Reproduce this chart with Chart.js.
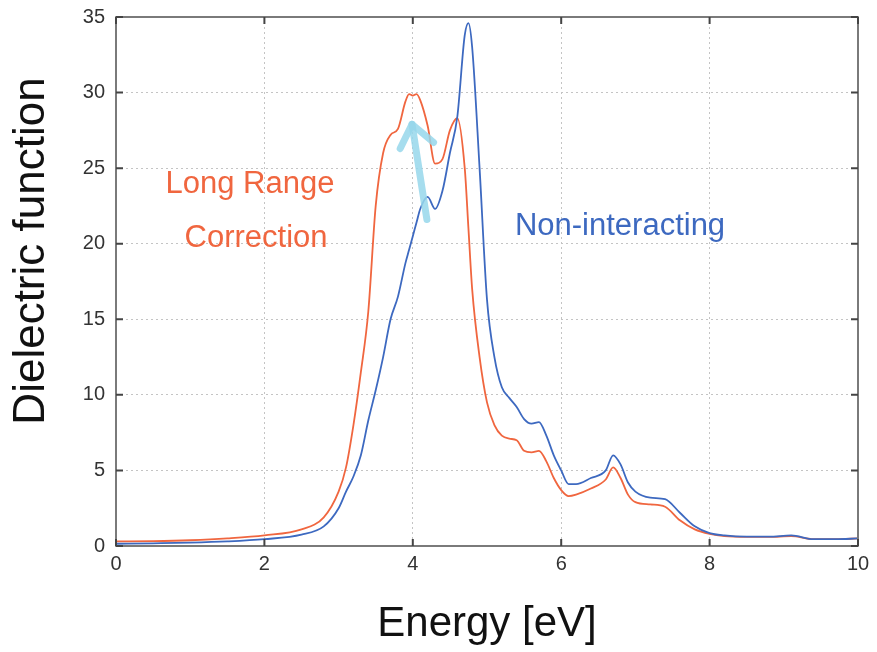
<!DOCTYPE html>
<html>
<head>
<meta charset="utf-8">
<script src="https://cdn.jsdelivr.net/npm/chart.js@4.4.1/dist/chart.umd.min.js"></script>
<style>
  html, body { margin: 0; padding: 0; background: #fff; }
  #wrap { width: 877px; height: 652px; }
</style>
</head>
<body>
<div id="wrap"><canvas id="chart" width="877" height="652"></canvas></div>
<script>
// energy grid (eV)
const energy = [0, 0.5, 1, 1.5, 2, 2.5, 2.8, 3.0, 3.1, 3.2, 3.3, 3.4, 3.5, 3.6, 3.7, 3.8, 3.9, 3.95, 4.0, 4.05, 4.1, 4.2,
  4.3, 4.4, 4.5, 4.6, 4.7, 4.75, 4.8, 4.9, 5.0, 5.1, 5.2, 5.3, 5.4, 5.5, 5.6, 5.7, 5.8, 5.9, 6.0, 6.1,
  6.2, 6.4, 6.6, 6.7, 6.8, 6.9, 7.0, 7.2, 7.4, 7.6, 7.8, 8.0, 8.2, 8.5, 8.8, 9.1, 9.4, 9.7, 10];

const longRange = [0.3, 0.32, 0.38, 0.5, 0.7, 1.1, 1.9, 3.6, 5.2, 8.0, 11.5, 15.5, 22.5, 26.0, 27.2, 27.6, 29.4, 29.9, 29.8, 29.9, 29.5, 27.8,
  25.3, 25.6, 27.5, 28.3, 25.0, 21.0, 17.0, 12.5, 9.5, 8.0, 7.3, 7.1, 7.0, 6.3, 6.2, 6.3, 5.6, 4.5, 3.7, 3.3,
  3.4, 3.8, 4.4, 5.2, 4.5, 3.4, 2.9, 2.75, 2.6, 1.7, 1.1, 0.8, 0.65, 0.6, 0.6, 0.65, 0.45, 0.45, 0.5];

const nonInteracting = [0.15, 0.18, 0.22, 0.3, 0.45, 0.75, 1.3, 2.5, 3.6, 4.6, 6.0, 8.3, 10.3, 12.5, 15.0, 16.5, 18.7, 19.6, 20.5, 21.4, 22.3, 23.1,
  22.3, 23.5, 26.0, 28.4, 33.8, 34.6, 33.0, 25.0, 16.3, 12.5, 10.5, 9.8, 9.2, 8.4, 8.1, 8.2, 7.3, 6.0, 5.0, 4.1,
  4.1, 4.5, 5.0, 6.0, 5.4, 4.2, 3.6, 3.2, 3.1, 2.2, 1.3, 0.85, 0.7, 0.62, 0.62, 0.7, 0.45, 0.45, 0.5];

const xTicks = [0, 2, 4, 6, 8, 10];
const yTicks = [0, 5, 10, 15, 20, 25, 30, 35];

const ORANGE = '#f0663f';
const BLUE = '#3d69c0';
const FONT = '"Liberation Sans", Arial, sans-serif';

function pts(ys) {
  return energy.map((x, i) => ({ x: x, y: ys[i] }));
}

// frame, inward ticks, y title, text labels and the arrow
const decor = {
  id: 'decor',
  afterDatasetsDraw(chart) {
    const { ctx, chartArea: a, scales } = chart;
    const xs = scales.x, ys = scales.y;
    ctx.save();

    // arrow (light blue)
    const x0 = xs.getPixelForValue(4.19), y0 = ys.getPixelForValue(21.6);
    const x1 = xs.getPixelForValue(3.99), y1 = ys.getPixelForValue(27.9);
    ctx.strokeStyle = 'rgba(150, 215, 235, 0.85)';
    ctx.lineWidth = 7;
    ctx.lineCap = 'round';
    ctx.lineJoin = 'round';
    ctx.beginPath();
    ctx.moveTo(x0, y0);
    ctx.lineTo(x1, y1);
    ctx.stroke();
    ctx.beginPath();
    ctx.moveTo(xs.getPixelForValue(3.83), ys.getPixelForValue(26.3));
    ctx.lineTo(x1, y1);
    ctx.lineTo(xs.getPixelForValue(4.28), ys.getPixelForValue(26.7));
    ctx.stroke();

    // annotations
    ctx.font = '31px ' + FONT;
    ctx.textAlign = 'center';
    ctx.textBaseline = 'middle';
    ctx.fillStyle = ORANGE;
    ctx.fillText('Long Range', 250, 184);
    ctx.fillText('Correction', 256, 238);
    ctx.fillStyle = BLUE;
    ctx.fillText('Non-interacting', 620, 226);

    // y axis title
    ctx.save();
    ctx.translate(32, 251);
    ctx.rotate(-Math.PI / 2);
    ctx.fillStyle = '#111';
    ctx.font = '44px ' + FONT;
    ctx.fillText('Dielectric function', 0, 0);
    ctx.restore();

    // frame
    ctx.strokeStyle = '#7a7a7a';
    ctx.lineWidth = 2;
    ctx.lineCap = 'butt';
    ctx.strokeRect(a.left, a.top, a.right - a.left, a.bottom - a.top);

    // inward ticks on all four sides
    ctx.strokeStyle = '#444';
    ctx.lineWidth = 2;
    ctx.beginPath();
    xTicks.forEach(v => {
      const p = xs.getPixelForValue(v);
      ctx.moveTo(p, a.bottom); ctx.lineTo(p, a.bottom - 7);
      ctx.moveTo(p, a.top); ctx.lineTo(p, a.top + 7);
    });
    yTicks.forEach(v => {
      const p = ys.getPixelForValue(v);
      ctx.moveTo(a.left, p); ctx.lineTo(a.left + 7, p);
      ctx.moveTo(a.right, p); ctx.lineTo(a.right - 7, p);
    });
    ctx.stroke();
    ctx.restore();
  }
};

new Chart(document.getElementById('chart'), {
  type: 'scatter',
  data: {
    datasets: [
      {
        label: 'Non-interacting',
        data: pts(nonInteracting),
        showLine: true,
        borderColor: BLUE,
        borderWidth: 1.8,
        pointRadius: 0,
        cubicInterpolationMode: 'monotone'
      },
      {
        label: 'Long Range Correction',
        data: pts(longRange),
        showLine: true,
        borderColor: ORANGE,
        borderWidth: 1.8,
        pointRadius: 0,
        cubicInterpolationMode: 'monotone'
      }
    ]
  },
  options: {
    responsive: false,
    animation: false,
    layout: { padding: { left: 0, right: 19, top: 17, bottom: 0 } },
    plugins: {
      legend: { display: false },
      tooltip: { enabled: false }
    },
    scales: {
      x: {
        type: 'linear',
        min: 0, max: 10,
        afterBuildTicks: s => { s.ticks = xTicks.map(v => ({ value: v })); },
        afterFit: s => { s.height = 106; s.paddingLeft = 0; s.paddingRight = 0; },
        ticks: {
          color: '#333',
          font: { size: 20, family: FONT },
          padding: 6
        },
        grid: { color: '#c4c4c4', lineWidth: 1, drawTicks: false },
        border: { display: false, dash: [2, 3] },
        title: {
          display: true,
          text: 'Energy [eV]',
          color: '#111',
          font: { size: 42, family: FONT },
          padding: { top: 20, bottom: 2 }
        }
      },
      y: {
        type: 'linear',
        min: 0, max: 35,
        afterBuildTicks: s => { s.ticks = yTicks.map(v => ({ value: v })); },
        afterFit: s => { s.width = 116; s.paddingTop = 0; s.paddingBottom = 0; },
        ticks: {
          color: '#333',
          font: { size: 20, family: FONT },
          padding: 11
        },
        grid: { color: '#c4c4c4', lineWidth: 1, drawTicks: false },
        border: { display: false, dash: [2, 3] }
      }
    }
  },
  plugins: [decor]
});
</script>
</body>
</html>
